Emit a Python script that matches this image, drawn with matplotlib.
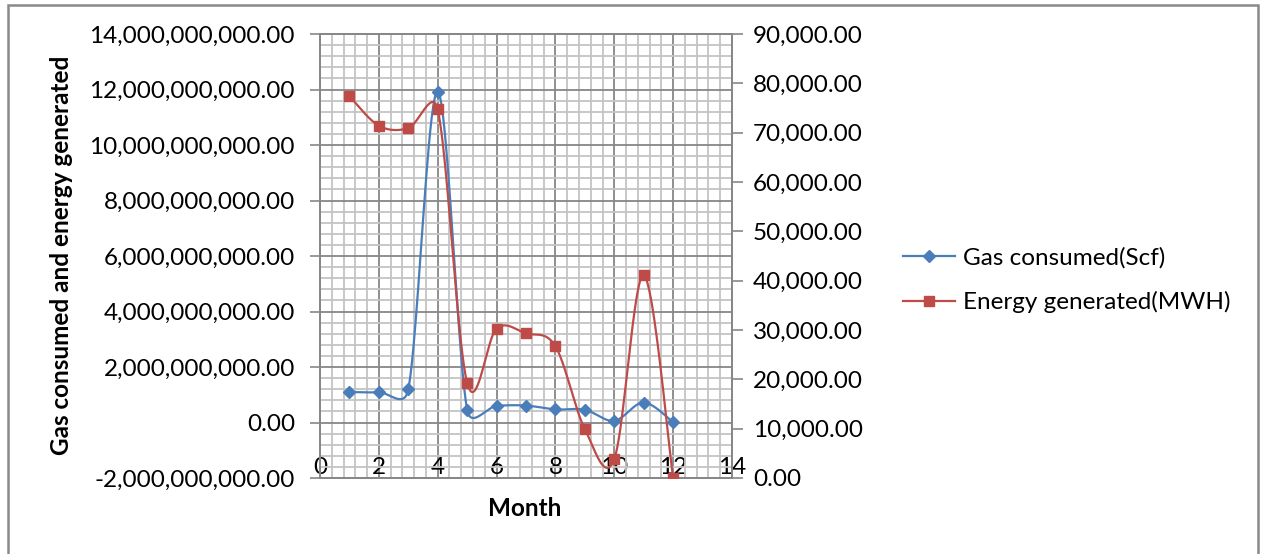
import numpy as np
import matplotlib.pyplot as plt
from matplotlib.patches import Rectangle
from matplotlib.ticker import FuncFormatter, MultipleLocator

plt.rcParams['font.family'] = ['Lato', 'DejaVu Sans']

# monthly data
months = [1, 2, 3, 4, 5, 6, 7, 8, 9, 10, 11, 12]
gas_scf = [1.10e9, 1.09e9, 1.19e9, 11.92e9, 0.46e9, 0.60e9,
           0.61e9, 0.47e9, 0.46e9, 0.06e9, 0.72e9, 0.01e9]
energy_mwh = [77400, 71400, 70900, 74700, 19300, 30300,
              29300, 26700, 9900, 3850, 41100, 0]

BLUE = '#4A7EBB'
RED = '#BE4B48'
GRID_MAJOR = '#878787'
GRID_MINOR = '#C4C4C4'
FS = 17.5

# plot box in pixels
AX_L, AX_R, AX_T, AX_B = 320, 732, 34, 478
W, H = 1261, 554


def smooth(x, y, sx, sy, n=40, k=0.7):
    """Catmull-Rom bezier smoothing in screen units (sx, sy per data unit);
    control arms are capped at k times the segment length."""
    p = np.column_stack([np.asarray(x, float) * sx, np.asarray(y, float) * sy])
    p = np.vstack([p[:1], p, p[-1:]])
    t = np.linspace(0, 1, n)[:, None]
    out = []
    for i in range(1, len(p) - 2):
        p0, p3 = p[i], p[i + 1]
        seg = np.linalg.norm(p3 - p0)
        a1 = (p3 - p[i - 1]) / 6
        a2 = (p[i + 2] - p0) / 6
        for a in (a1, a2):
            L = np.linalg.norm(a)
            if L > k * seg:
                a *= k * seg / L
        c1 = p0 + a1
        c2 = p3 - a2
        b = (1 - t) ** 3 * p0 + 3 * (1 - t) ** 2 * t * c1 \
            + 3 * (1 - t) * t ** 2 * c2 + t ** 3 * p3
        out.append(b)
    out = np.vstack(out)
    return out[:, 0] / sx, out[:, 1] / sy


fig = plt.figure(figsize=(W / 100, H / 100), dpi=100)
ax = fig.add_axes([AX_L / W, 1 - AX_B / H, (AX_R - AX_L) / W, (AX_B - AX_T) / H])
ax2 = ax.twinx()

# chart border
fig.patches.append(Rectangle((8 / W, -0.05), 1250 / W, 1 - 5 / H + 0.05,
                             transform=fig.transFigure, fill=False,
                             edgecolor='#898989', linewidth=1.8))

ax.set_xlim(0, 14)
ax.set_ylim(-2e9, 14e9)
ax2.set_ylim(0, 90000)

ax.xaxis.set_major_locator(MultipleLocator(2))
ax.xaxis.set_minor_locator(MultipleLocator(0.4))
ax.yaxis.set_major_locator(MultipleLocator(2e9))
ax.yaxis.set_minor_locator(MultipleLocator(0.4e9))
ax2.yaxis.set_major_locator(MultipleLocator(10000))

ax.grid(which='minor', color=GRID_MINOR, linewidth=1.3)
ax.grid(which='major', color=GRID_MAJOR, linewidth=1.3)
ax.set_axisbelow(True)

fmt = FuncFormatter(lambda v, p: f'{v:,.2f}')
ax.yaxis.set_major_formatter(fmt)
ax2.yaxis.set_major_formatter(fmt)

ax.tick_params(axis='y', which='major', length=7, width=1.2, color=GRID_MAJOR,
               pad=11, labelsize=FS)
ax.tick_params(axis='y', which='minor', length=0)
ax.tick_params(axis='x', which='both', length=0, pad=-15, labelsize=FS)
ax2.tick_params(axis='y', length=8, width=1.2, color=GRID_MAJOR, pad=7, labelsize=FS)

for a in (ax, ax2):
    for s in a.spines.values():
        s.set_color(GRID_MAJOR)
        s.set_linewidth(1.3)

px_x = (AX_R - AX_L) / 14
gx, gy = smooth(months, gas_scf, px_x, (AX_B - AX_T) / 16e9)
ax.plot(gx, gy, color=BLUE, linewidth=1.6, zorder=3)
ax.plot(months, gas_scf, linestyle='none', marker='D', markersize=6.5,
        color=BLUE, zorder=4)

ex, ey = smooth(months, energy_mwh, px_x, (AX_B - AX_T) / 90000)
ax2.plot(ex, ey, color=RED, linewidth=1.6, zorder=3)
ax2.plot(months, energy_mwh, linestyle='none', marker='s', markersize=7.5,
         color=RED, zorder=4)

fig.text(62 / W, 1 - 255 / H, 'Gas consumed and energy generated',
         rotation=90, ha='center', va='center', fontsize=FS, fontweight='bold')
fig.text(525 / W, 1 - 508 / H, 'Month', ha='center', va='center',
         fontsize=FS, fontweight='bold')

h1 = plt.Line2D([], [], color=BLUE, linewidth=1.6, marker='D', markersize=6.5)
h2 = plt.Line2D([], [], color=RED, linewidth=1.6, marker='s', markersize=7.5)
fig.legend([h1, h2], ['Gas consumed(Scf)', 'Energy generated(MWH)'],
           loc='center left', bbox_to_anchor=(903 / W, 1 - 280 / H),
           frameon=False, fontsize=FS, handlelength=2.15, handletextpad=0.3,
           labelspacing=0.95, borderaxespad=0, borderpad=0)

fig.savefig('out.png', dpi=100)
